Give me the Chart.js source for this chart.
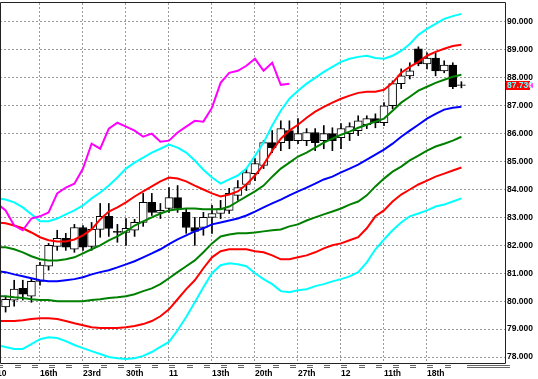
<!DOCTYPE html>
<html><head><meta charset="utf-8">
<script src="https://cdn.jsdelivr.net/npm/chart.js@4/dist/chart.umd.min.js"></script>
<style>html,body{margin:0;padding:0;background:#fff}</style>
</head><body>
<canvas id="c" width="538" height="379"></canvas>
<script>
// ---- data (candle index 0..53) ----
const open  = [79.79,80.04,80.46,80.18,80.71,81.25,81.96,82.25,81.86,82.64,81.96,82.57,83.04,82.50,82.46,82.54,82.82,83.54,83.18,83.32,83.71,83.18,82.64,82.64,83.00,83.14,83.25,83.79,84.18,84.57,84.86,85.68,85.68,86.11,85.75,85.75,86.04,85.75,86.00,85.86,86.00,86.11,86.32,86.54,86.39,87.00,87.79,88.07,89.04,88.50,88.71,88.25,88.46,87.75];
const high  = [80.18,80.75,80.75,80.82,81.39,82.07,82.54,82.43,82.75,82.71,82.82,83.50,83.50,82.75,82.96,82.93,83.86,83.86,83.50,84.07,84.14,83.32,83.00,83.18,83.43,83.61,84.04,84.32,84.75,85.11,85.75,86.11,86.46,86.46,86.54,86.18,86.18,86.29,86.21,86.36,86.39,86.64,86.64,86.71,87.11,87.89,88.32,88.54,89.11,88.89,88.89,88.61,88.54,87.86];
const low   = [79.61,79.82,80.04,79.96,80.57,81.11,81.82,81.82,81.75,81.82,81.82,82.29,82.32,82.11,82.00,82.32,82.68,83.07,82.96,83.18,83.18,82.43,82.00,82.36,82.43,82.96,83.14,83.61,83.96,84.32,84.75,85.32,85.39,85.46,85.64,85.57,85.39,85.46,85.39,85.46,85.75,85.93,86.18,86.21,86.29,86.89,87.61,87.96,88.43,88.32,88.07,88.18,87.61,87.64];
const close = [80.07,80.43,80.25,80.71,81.29,82.00,82.25,81.93,82.64,81.93,82.57,83.04,82.61,82.46,82.61,82.82,83.54,83.18,83.25,83.71,83.32,82.64,82.50,83.00,83.14,83.32,83.86,84.07,84.61,84.93,85.68,85.50,86.18,85.75,86.00,86.04,85.68,86.00,85.75,86.18,86.25,86.46,86.54,86.39,87.00,87.79,88.07,88.25,88.50,88.71,88.25,88.46,87.68,87.73];

// band lines, starting one index before the first candle (index -1..53)
const lineStart = -1;
const upper3 = [83.68,83.64,83.54,83.36,83.11,82.86,82.86,82.96,83.11,83.25,83.43,83.68,83.89,84.14,84.43,84.75,84.96,85.14,85.32,85.46,85.61,85.50,85.32,85.04,84.71,84.43,84.21,84.36,84.50,84.75,85.21,85.68,86.29,86.82,87.25,87.54,87.79,88.00,88.21,88.39,88.57,88.68,88.75,88.79,88.71,88.68,88.79,88.96,89.21,89.54,89.75,89.93,90.11,90.21,90.29];
const upper2 = [82.82,82.79,82.71,82.61,82.46,82.29,82.18,82.14,82.14,82.21,82.36,82.57,82.93,83.21,83.36,83.54,83.75,83.93,84.11,84.29,84.43,84.39,84.29,84.14,84.00,83.86,83.75,83.82,83.93,84.18,84.50,84.89,85.39,85.82,86.11,86.32,86.57,86.79,86.96,87.11,87.25,87.36,87.46,87.50,87.50,87.57,87.82,88.18,88.39,88.57,88.79,88.93,89.04,89.14,89.18];
const upper1 = [81.93,81.93,81.86,81.75,81.61,81.50,81.46,81.46,81.50,81.57,81.71,81.86,82.00,82.18,82.32,82.50,82.71,82.86,83.00,83.14,83.25,83.29,83.32,83.32,83.29,83.29,83.29,83.39,83.57,83.75,83.93,84.14,84.46,84.75,84.96,85.18,85.32,85.50,85.68,85.82,85.96,86.07,86.21,86.32,86.43,86.54,86.82,87.11,87.32,87.54,87.68,87.82,87.93,88.04,88.11];
const middle = [81.07,81.04,80.96,80.89,80.82,80.75,80.71,80.71,80.75,80.79,80.86,80.96,81.04,81.11,81.21,81.32,81.43,81.57,81.71,81.86,82.04,82.21,82.36,82.50,82.61,82.75,82.82,82.89,82.96,83.07,83.21,83.36,83.50,83.64,83.79,83.93,84.07,84.21,84.36,84.46,84.61,84.75,84.89,85.07,85.25,85.43,85.64,85.89,86.11,86.32,86.54,86.71,86.86,86.93,86.96];
const lower1 = [80.18,80.18,80.14,80.11,80.07,80.04,80.04,80.00,80.00,80.00,80.00,80.04,80.07,80.11,80.14,80.18,80.25,80.36,80.46,80.61,80.82,81.04,81.25,81.46,81.75,82.07,82.32,82.39,82.43,82.43,82.46,82.50,82.54,82.57,82.68,82.75,82.89,83.00,83.11,83.21,83.32,83.46,83.57,83.79,84.11,84.39,84.64,84.82,85.04,85.21,85.39,85.54,85.64,85.75,85.89];
const lower2 = [79.29,79.29,79.29,79.32,79.36,79.39,79.39,79.36,79.29,79.21,79.14,79.07,79.04,79.04,79.04,79.07,79.11,79.18,79.29,79.46,79.71,80.07,80.43,80.75,81.18,81.57,81.79,81.86,81.86,81.86,81.79,81.75,81.64,81.50,81.50,81.57,81.64,81.75,81.89,82.00,82.07,82.18,82.29,82.61,83.04,83.25,83.57,83.82,84.00,84.18,84.32,84.46,84.57,84.68,84.79];
const lower3 = [78.43,78.36,78.29,78.29,78.46,78.64,78.71,78.68,78.57,78.43,78.32,78.21,78.11,78.00,77.96,77.93,77.96,78.04,78.18,78.36,78.54,78.96,79.43,79.96,80.50,81.00,81.29,81.36,81.32,81.25,81.00,80.79,80.61,80.36,80.32,80.39,80.43,80.54,80.61,80.71,80.79,80.89,81.04,81.39,81.86,82.21,82.54,82.82,83.04,83.14,83.25,83.39,83.46,83.57,83.68];
const lagging = [83.50,83.25,82.71,82.54,82.96,83.04,83.18,83.86,84.07,84.21,84.75,85.64,85.46,86.18,86.39,86.25,86.11,85.89,86.00,85.71,85.75,86.04,86.25,86.46,86.43,86.93,87.82,88.18,88.25,88.43,88.68,88.25,88.54,87.75,87.79];

// axis ticks
const xTickIndex  = [-1, 4, 9, 14, 19, 24, 29, 34, 39, 44, 49];
const xTickLabels = ['10','16th','23rd','30th','11','13th','20th','27th','12','11th','18th'];
const yTickValues = [78,79,80,81,82,83,84,85,86,87,88,89,90];
const lastPrice = close[close.length - 1];

// ---- build ----
const pts = arr => arr.map((v, k) => ({x: lineStart + k, y: v}));
const lineDs = (arr, color, order) => ({
  type: 'line', data: pts(arr), borderColor: color, borderWidth: 2,
  pointRadius: 0, tension: 0, fill: false, order
});
const bodies = open.map((o, i) => ({x: i, y: [Math.min(o, close[i]), Math.max(o, close[i])]}));
const wicks  = open.map((o, i) => ({x: i, y: [low[i], high[i]]}));

const FONT_FAMILY = '"Liberation Sans Narrow", "Liberation Sans", Arial, sans-serif';
const tickFont = {family: FONT_FAMILY, size: 8.5, weight: 'bold'};

const decor = {
  id: 'decor',
  afterDraw(chart) {
    const {ctx, chartArea: a, scales: {x, y}} = chart;
    ctx.save();
    // frame
    ctx.strokeStyle = '#222'; ctx.lineWidth = 1;
    ctx.beginPath();
    ctx.moveTo(a.left + 0.5, a.top - 0.5);
    ctx.lineTo(a.right + 0.5, a.top - 0.5);
    ctx.lineTo(a.right + 0.5, a.bottom + 0.5);
    ctx.lineTo(a.left + 0.5, a.bottom + 0.5);
    ctx.closePath();
    ctx.stroke();
    // bottom time-scale marks
    ctx.strokeStyle = '#666';
    ctx.beginPath();
    for (let k = -1; k < 26; k++) {
      const cx = Math.round(x.getPixelForValue(2 * k + 1.4));
      for (const dy of [2, 4]) {
        ctx.moveTo(cx - 3, a.bottom + dy + 0.5);
        ctx.lineTo(cx + 3, a.bottom + dy + 0.5);
      }
    }
    const sx = Math.round(x.getPixelForValue(close.length - 0.3));
    for (const dy of [2, 4]) {
      ctx.moveTo(sx, a.bottom + dy + 0.5);
      ctx.lineTo(a.right + 5, a.bottom + dy + 0.5);
    }
    ctx.stroke();
    // last price tag
    const py = Math.round(y.getPixelForValue(lastPrice));
    ctx.fillStyle = '#ff0000';
    ctx.fillRect(a.right + 1, py - 4, 24, 9);
    ctx.fillStyle = '#66ffff';
    ctx.font = 'bold 8.5px ' + FONT_FAMILY;
    ctx.textBaseline = 'middle';
    ctx.textAlign = 'left';
    ctx.fillText(lastPrice.toFixed(3), a.right + 2, py + 0.5);
    ctx.fillStyle = '#ff40ff';
    ctx.beginPath();
    ctx.moveTo(a.right + 25, py + 0.5);
    ctx.lineTo(a.right + 28, py - 2.5);
    ctx.lineTo(a.right + 28, py + 3.5);
    ctx.closePath();
    ctx.fill();
    ctx.restore();
  }
};

new Chart(document.getElementById('c'), {
  type: 'line',
  data: {
    datasets: [
      lineDs(lagging, '#ff00ff', 0),
      lineDs(upper3, '#00ffff', 1),
      lineDs(upper2, '#ff0000', 2),
      lineDs(upper1, '#008000', 3),
      lineDs(middle, '#0000ff', 4),
      lineDs(lower1, '#008000', 5),
      lineDs(lower2, '#ff0000', 6),
      lineDs(lower3, '#00ffff', 7),
      {type: 'bar', data: bodies, grouped: false, barThickness: 8,
       backgroundColor: open.map((o, i) => close[i] >= o ? '#ffffff' : '#000000'),
       borderColor: '#000', borderWidth: 1, borderSkipped: false, order: 9},
      {type: 'bar', data: wicks, grouped: false, barThickness: 1,
       backgroundColor: '#000', borderWidth: 0, order: 10}
    ]
  },
  options: {
    responsive: false,
    animation: false,
    events: [],
    devicePixelRatio: 1,
    layout: {padding: {top: 3, left: 0, right: 0, bottom: 0}},
    plugins: {legend: {display: false}, tooltip: {enabled: false}},
    scales: {
      x: {
        type: 'linear', min: -0.651, max: 58.07, offset: false,
        grid: {offset: false, color: '#9a9a9a', lineWidth: 1, drawTicks: false, borderDash: [2, 2]},
        border: {display: false, dash: [2, 2]},
        afterBuildTicks: s => { s.ticks = xTickIndex.map(v => ({value: v})); },
        afterFit: s => { s.height = 16; s.paddingLeft = 0; s.paddingRight = 0; },
        ticks: {
          autoSkip: false, maxRotation: 0, minRotation: 0, align: 'start', padding: 6,
          color: '#000', font: tickFont,
          callback: (v, i) => xTickLabels[i]
        }
      },
      y: {
        type: 'linear', position: 'right', min: 77.786, max: 90.679,
        grid: {color: '#9a9a9a', lineWidth: 1, drawTicks: false, borderDash: [2, 2]},
        border: {display: false, dash: [2, 2]},
        afterBuildTicks: s => { s.ticks = yTickValues.map(v => ({value: v})); },
        afterFit: s => { s.width = 33; s.paddingTop = 0; s.paddingBottom = 0; },
        ticks: {padding: 2, color: '#000', font: tickFont, callback: v => Number(v).toFixed(3)}
      }
    }
  },
  plugins: [decor]
});
</script>
</body></html>
